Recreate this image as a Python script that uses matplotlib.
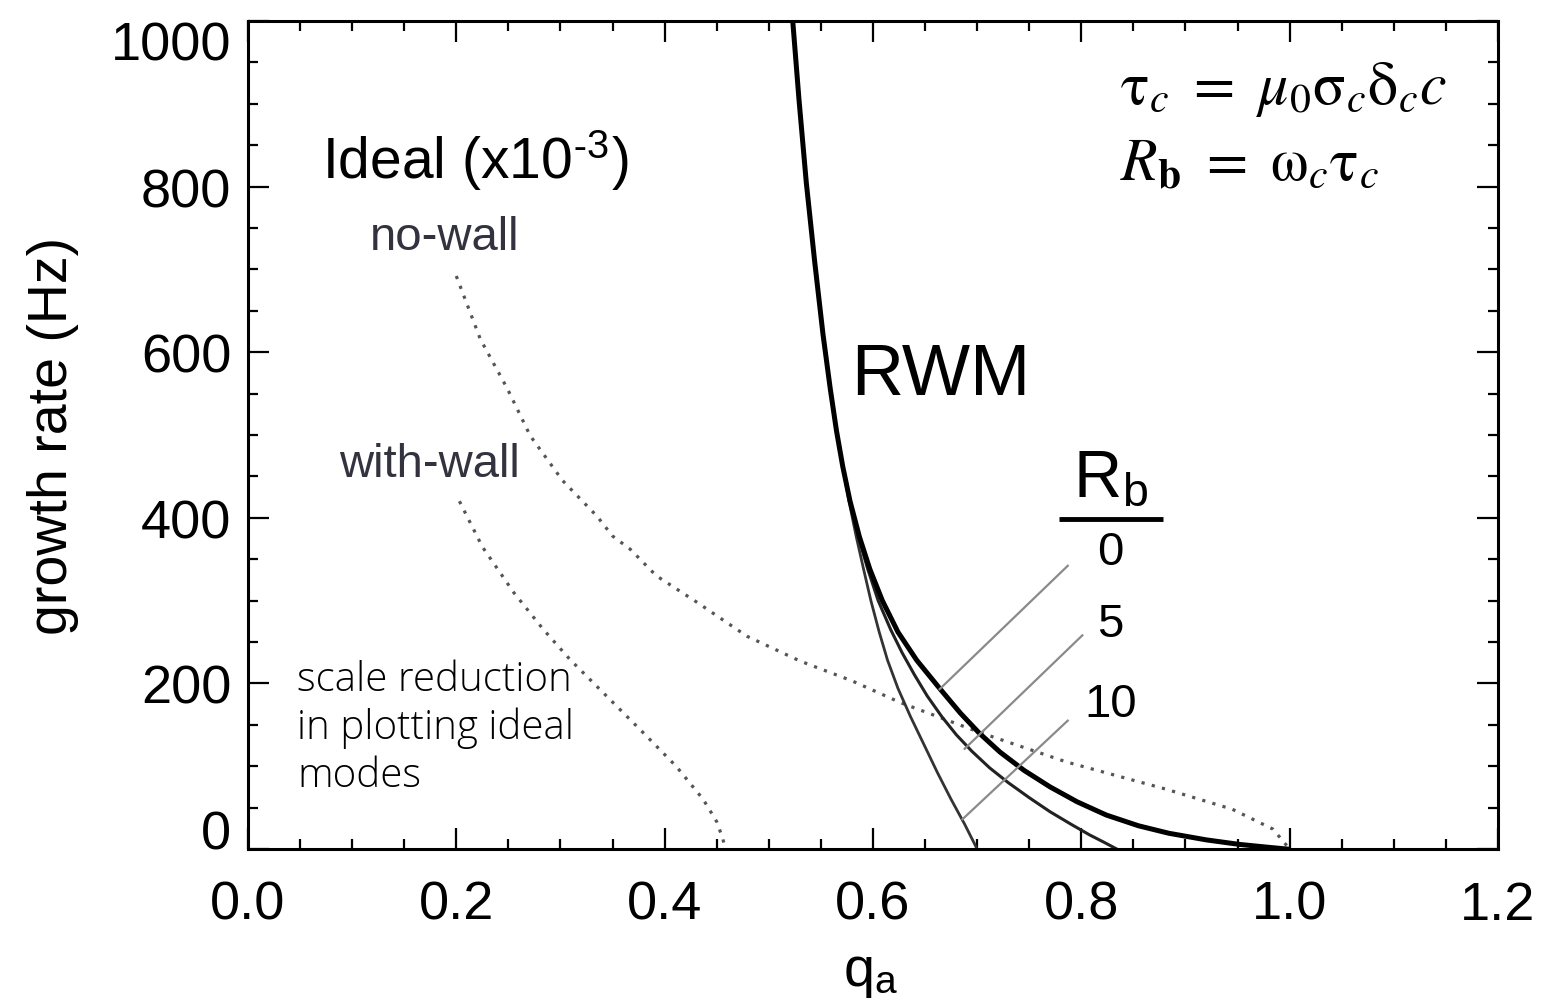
import numpy as np
import matplotlib
matplotlib.use("Agg")
import matplotlib.pyplot as plt

plt.rcParams["font.family"] = ["Liberation Sans", "DejaVu Sans"]
plt.rcParams["mathtext.fontset"] = "stix"

# RWM growth rate vs q_a for three wall rotation values R_b
q_rb0 = [0.523, 0.529, 0.536, 0.544, 0.552, 0.559, 0.565, 0.571, 0.578, 0.587, 0.597,
         0.609, 0.624, 0.642, 0.664, 0.684, 0.702, 0.722, 0.745, 0.770, 0.796, 0.824,
         0.855, 0.884, 0.920, 0.952, 0.980, 0.997]
g_rb0 = [1000, 905, 805, 710, 622, 556, 505, 462, 420, 377, 338,
         300, 262, 228, 194, 164, 140, 117, 95, 75, 57, 41,
         28, 19, 11, 5.5, 2, 0]

q_rb5 = [0.523, 0.529, 0.536, 0.544, 0.552, 0.559, 0.565, 0.571, 0.578, 0.586, 0.595,
         0.605, 0.617, 0.628, 0.640, 0.652, 0.666, 0.680, 0.695, 0.712, 0.730, 0.750,
         0.770, 0.790, 0.808, 0.822, 0.834]
g_rb5 = [1000, 905, 805, 710, 622, 556, 505, 462, 420, 377, 338,
         300, 265, 237, 210, 185, 160, 138, 118, 98, 80, 62,
         45, 30, 17, 8, 0]

q_rb10 = [0.523, 0.529, 0.536, 0.544, 0.552, 0.559, 0.565, 0.571, 0.577, 0.584, 0.591,
          0.598, 0.606, 0.614, 0.624, 0.636, 0.649, 0.662, 0.675, 0.688, 0.700]
g_rb10 = [1000, 905, 805, 710, 622, 556, 505, 462, 420, 377, 338,
          300, 262, 228, 194, 160, 126, 92, 60, 30, 0]

# ideal kink growth rates (scaled by 1e-3)
q_nowall = [0.200, 0.223, 0.249, 0.271, 0.302, 0.335, 0.350, 0.367, 0.392, 0.431, 0.479,
            0.530, 0.580, 0.626, 0.702, 0.786, 0.882, 0.945, 0.984, 1.000]
g_nowall = [692, 616, 556, 499, 445, 402, 378, 362, 330, 298, 257,
            227, 203, 177, 141, 105, 72, 48, 24, 0]

q_wall = [0.203, 0.225, 0.255, 0.283, 0.309, 0.344, 0.379, 0.411, 0.437, 0.450, 0.456, 0.458]
g_wall = [420, 365, 310, 266, 229, 185, 141, 100, 60, 33, 12, 0]

rb_labels = ["0", "5", "10"]
x_ticks = [0.0, 0.2, 0.4, 0.6, 0.8, 1.0, 1.2]
y_ticks = [0, 200, 400, 600, 800, 1000]

fig = plt.figure(figsize=(15.43, 10.04), dpi=100)
ax = fig.add_axes([0.1607, 0.1534, 0.8101, 0.8247])

dots = dict(color="#555555", linestyle=(0, (1, 2.3)), linewidth=2.3)
ax.plot(q_nowall, g_nowall, **dots)
ax.plot(q_wall, g_wall, **dots)

ax.plot(q_rb10, g_rb10, color="#333333", linewidth=2.0)
ax.plot(q_rb5, g_rb5, color="#222222", linewidth=2.2)
ax.plot(q_rb0, g_rb0, color="black", linewidth=3.6)

# leader lines from the R_b labels to their curves
leaders = [((0.787, 342), (0.664, 193)),
           ((0.801, 258), (0.688, 121)),
           ((0.787, 155), (0.686, 36))]
for (x0, y0), (x1, y1) in leaders:
    ax.plot([x0, x1], [y0, y1], color="#8a8a8a", linewidth=1.6)

label_y = [359, 272, 175]
for lab, yy in zip(rb_labels, label_y):
    ax.text(0.828, yy, lab, fontsize=34, ha="center", va="center")
ax.text(0.828, 447, r"R$_\mathregular{b}$", fontsize=48, ha="center", va="center")
ax.plot([0.779, 0.878], [398, 398], color="black", linewidth=3.5, solid_capstyle="butt")

ax.text(0.665, 572, "RWM", fontsize=52, ha="center", va="center")
ax.text(0.071, 833, r"Ideal (x10$^\mathregular{\text{-}3}$)", fontsize=41,
        ha="left", va="center")
ax.text(0.189, 739, "no-wall", fontsize=34, ha="center", va="center", color="#33333f")
ax.text(0.174, 465, "with-wall", fontsize=34, ha="center", va="center", color="#33333f")
ax.text(0.047, 230, "scale reduction\nin plotting ideal\nmodes", fontsize=29,
        ha="left", va="top", linespacing=1.22, color="#000000",
        family=["Open Sans", "DejaVu Sans"], fontweight="light")

ax.text(0.837, 918, r"$\mathrm{\tau}_c\ =\ \mu_0\mathrm{\sigma}_c\mathrm{\delta}_c c$",
        fontsize=43, ha="left", va="center")
ax.text(0.837, 827, r"$R_\mathbf{b}\ =\ \mathrm{\omega}_c\mathrm{\tau}_c$",
        fontsize=43, ha="left", va="center")

ax.set_xlim(0, 1.2)
ax.set_ylim(0, 1000)
ax.set_xticks(x_ticks)
ax.set_xticklabels([f"{v:.1f}" for v in x_ticks])
ax.set_yticks(y_ticks)
ax.set_xticks(np.arange(0, 1.2001, 0.05), minor=True)
ax.set_yticks(np.arange(0, 1000.1, 50), minor=True)
ax.tick_params(which="both", direction="in", top=True, right=True, width=1.6)
ax.tick_params(which="major", length=15)
ax.tick_params(which="minor", length=7)
ax.tick_params(axis="x", which="major", labelsize=39, pad=22)
ax.tick_params(axis="y", which="major", labelsize=39, pad=12)
for s in ax.spines.values():
    s.set_linewidth(2.2)

# keep the end labels of the y axis inside the frame height
ylabels = ax.get_yticklabels()
ylabels[0].set_verticalalignment("baseline")
ylabels[-1].set_verticalalignment("top")

ax.set_xlabel(r"q$_\mathregular{a}$", fontsize=40)
ax.set_ylabel("growth rate (Hz)", fontsize=40)
ax.xaxis.set_label_coords(0.498, -0.118)
ax.yaxis.set_label_coords(-0.135, 0.5)

fig.savefig("out.png", dpi=100)
